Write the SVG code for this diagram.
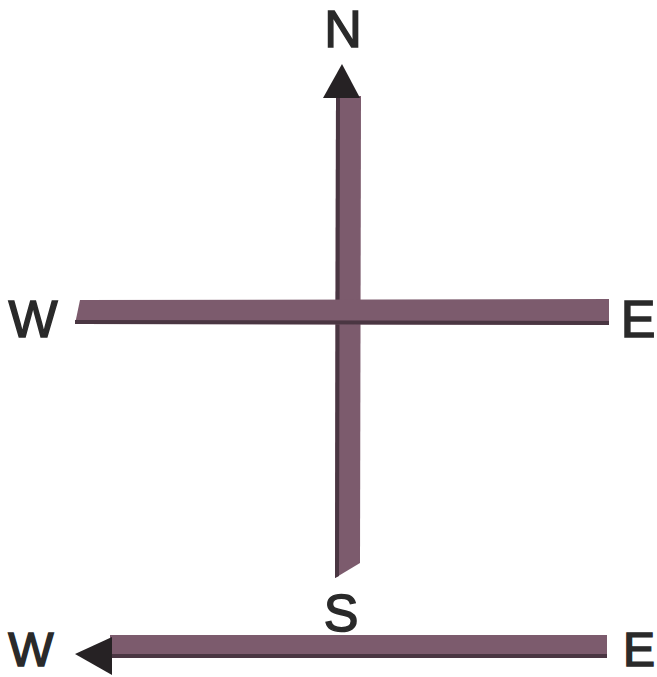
<svg xmlns="http://www.w3.org/2000/svg" width="657" height="677" viewBox="0 0 657 677">
<style>
.bar{fill:#7c5b6d}
.edge{fill:#4a3642}
.head{fill:#262224}
.lbl{font-family:"Liberation Sans",Arial,sans-serif;font-size:52px;fill:#2a2a2a;stroke:#2a2a2a;stroke-width:1.5;text-anchor:middle}
.low{font-size:48px}
</style>
<rect width="657" height="677" fill="#ffffff"/>
<g id="connectors">
  <g id="ns-axis">
    <polygon class="bar" points="336,96 361,96 360,563 335,578"/>
    <polygon class="edge" points="336,96 340,96 339,576 335,578"/>
    <polygon class="head" points="342,64 360,98 323,98"/>
  </g>
  <g id="we-axis">
    <polygon class="bar" points="80,300 609,299 609,325 75,324"/>
    <polygon class="edge" points="75,320 609,321 609,325 75,324"/>
  </g>
  <g id="ew-arrow">
    <rect class="bar" x="110" y="635" width="497" height="23"/>
    <rect class="edge" x="110" y="654" width="497" height="4"/>
    <polygon class="head" points="75,654 112,637 112,675"/>
  </g>
</g>
<g id="label-N"><text class="lbl" x="343" y="47">N</text></g>
<g id="label-W"><text class="lbl" x="33" y="337">W</text></g>
<g id="label-E"><text class="lbl" x="638" y="337">E</text></g>
<g id="label-S"><text class="lbl" x="341" y="631">S</text></g>
<g id="label-W2"><text class="lbl low" x="31" y="666">W</text></g>
<g id="label-E2"><text class="lbl low" x="639" y="666">E</text></g>
</svg>
